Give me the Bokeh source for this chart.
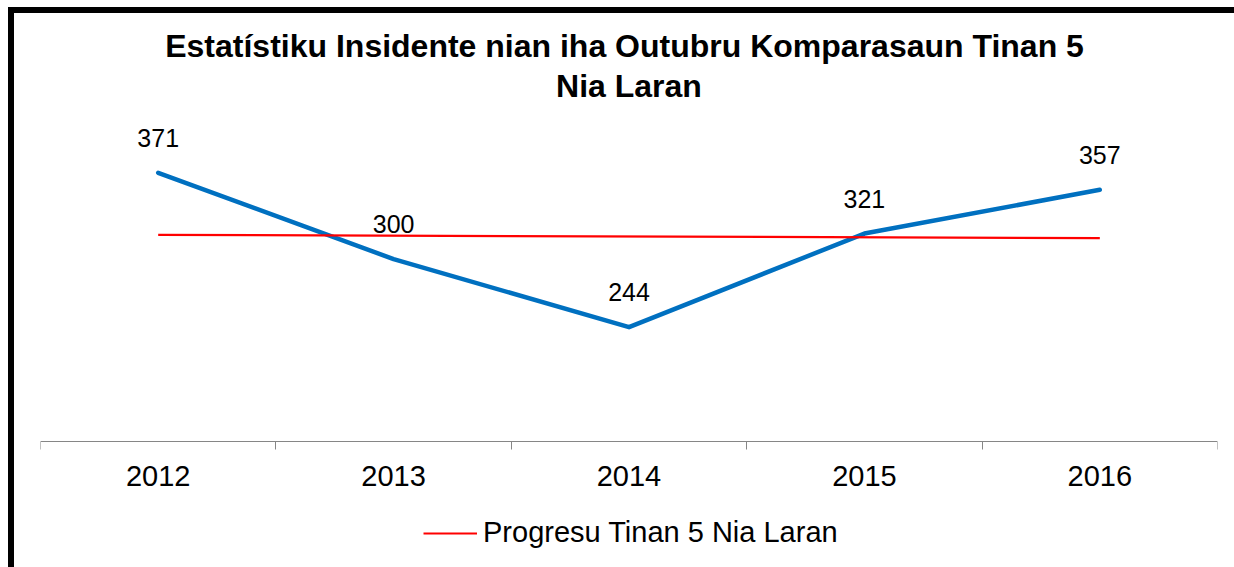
from bokeh.plotting import figure
from bokeh.models import (Range1d, LinearAxis, FixedTicker, Label, Legend, LegendItem,
                          ColumnDataSource)
from bokeh.embed import file_html
from bokeh.resources import INLINE

# ---- data ----
years = ["2012", "2013", "2014", "2015", "2016"]
incidents = [371, 300, 244, 321, 357]
trend_years = ["2012", "2016"]
trend_values = [320.0, 317.2]
title_lines = ["Estatístiku Insidente nian iha  Outubru Komparasaun Tinan 5", "Nia Laran"]
legend_label = "Progresu Tinan 5 Nia Laran"

FONT = "Liberation Sans"

pos = [i + 1 for i in range(len(years))]
trend_pos = [years.index(y) + 1 for y in trend_years]

W, H = 1220, 554
FL, FR = 26, 1203          # frame left/right in canvas px
AX_Y, TOP_Y = 428, 124     # canvas px where y=150 (axis) and y=400 sit
Y0, Y1 = 150, 400
k = (AX_Y - TOP_Y) / (Y1 - Y0)
y_range = Range1d(Y0 - (H - AX_Y) / k, Y1 + TOP_Y / k)

p = figure(width=W, height=H, output_backend="svg", toolbar_location=None, title=None,
           x_range=Range1d(0.5, len(years) + 0.5), y_range=y_range,
           x_axis_location=None, y_axis_location=None,
           min_border=0, min_border_left=FL, min_border_right=W - FR,
           styles={"margin-left": "14px", "margin-top": "13px",
                   "box-shadow": "-6px -6px 0 0 black, 0 -6px 0 0 black, -6px 0 0 0 black"})
p.outline_line_color = None
p.xgrid.visible = False
p.ygrid.visible = False
p.background_fill_color = "white"
p.border_fill_color = "white"

# x axis with ticks between categories, fixed at the bottom of the value scale
ticker = FixedTicker(ticks=pos, minor_ticks=[x - 0.5 for x in pos] + [pos[-1] + 0.5])
xaxis = LinearAxis(ticker=ticker, fixed_location=Y0,
                   major_label_overrides={x: y for x, y in zip(pos, years)})
xaxis.axis_line_color = "#868686"
xaxis.axis_line_width = 1
xaxis.major_tick_line_color = None
xaxis.major_tick_out = 8
xaxis.major_tick_in = 0
xaxis.minor_tick_line_color = "#868686"
xaxis.minor_tick_out = 8
xaxis.minor_tick_in = 0
xaxis.major_label_text_font = FONT
xaxis.major_label_text_font_size = "29px"
xaxis.major_label_text_color = "black"
xaxis.major_label_standoff = 16
p.add_layout(xaxis, "below")

# series
src = ColumnDataSource(dict(x=pos, y=incidents, lab=[str(v) for v in incidents]))
p.line("x", "y", source=src, line_color="#0070C0", line_width=4.5, line_join="round",
       line_cap="round")
p.text("x", "y", text="lab", source=src, text_align="center", text_baseline="alphabetic",
       y_offset=-35, text_font_size="25px", text_color="black",
       text_font={"value": FONT})

trend = p.line(trend_pos, trend_values, line_color="#FF0000", line_width=2.2)

legend = Legend(items=[LegendItem(label=legend_label, renderers=[trend])],
                orientation="horizontal", location=(383, 18))
legend.label_text_font = FONT
legend.label_text_font_size = "29px"
legend.label_text_color = "black"
legend.glyph_width = 54
legend.glyph_height = 20
legend.label_standoff = 6
legend.padding = 0
legend.margin = 0
legend.spacing = 0
legend.border_line_color = None
legend.background_fill_alpha = 0
p.add_layout(legend, "center")

# title (two centered lines), positioned from the frame bottom-left in px
frame_w = FR - FL
for line, base in zip(title_lines, [32, 72]):
    p.add_layout(Label(x=frame_w / 2, y=H - base, x_units="screen", y_units="screen",
                       text=line, text_align="center", text_baseline="alphabetic",
                       text_font=FONT, text_font_size="32px", text_font_style="bold",
                       text_color="black"))

open("out.html", "w").write(file_html(p, INLINE))
